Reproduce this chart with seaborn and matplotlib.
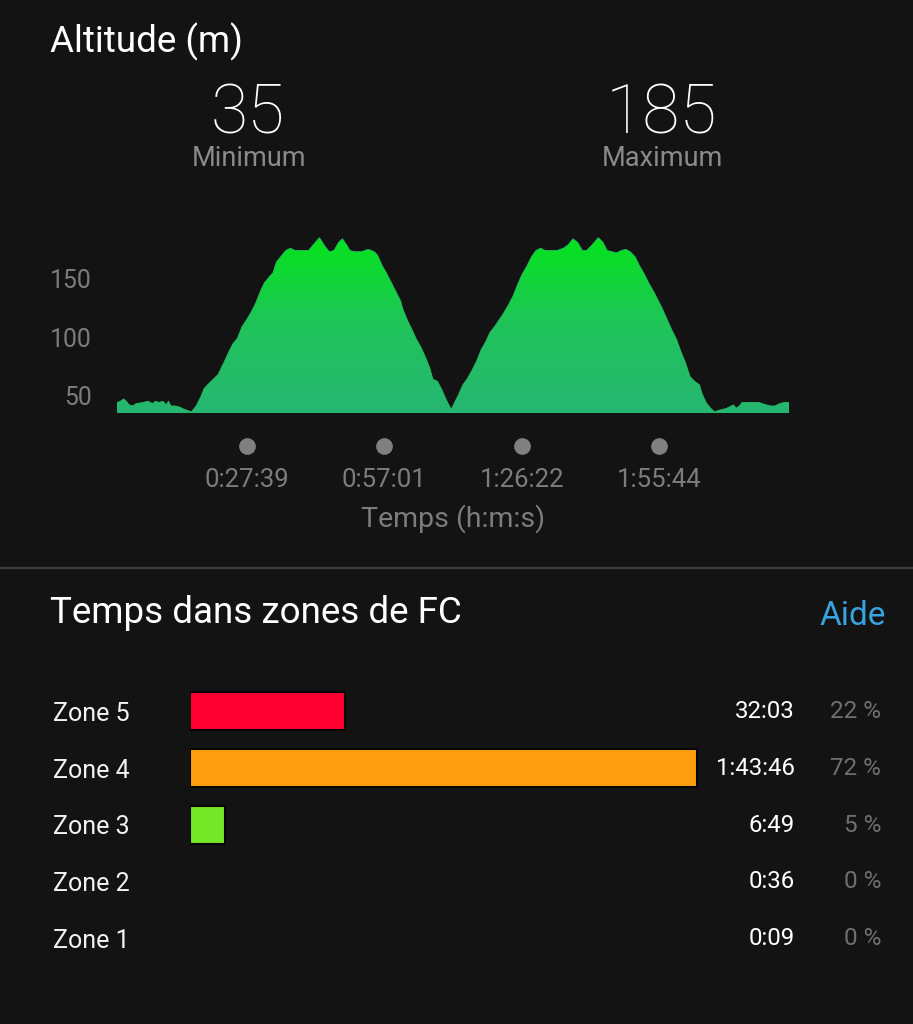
import numpy as np
import seaborn as sns
import matplotlib.pyplot as plt
from matplotlib.colors import LinearSegmentedColormap
from matplotlib.patches import PathPatch
from matplotlib.lines import Line2D

# altitude profile (elapsed minutes, metres)
time_min = [0.0, 0.7, 1.4, 2.0, 2.6, 3.3, 4.1, 5.6, 6.6, 7.6,
            8.2, 9.0, 9.8, 10.5, 11.0, 11.5, 12.5, 13.4, 14.4, 15.9,
            16.9, 17.9, 18.6, 19.8, 21.6, 22.3, 22.8, 23.7, 24.7, 25.7,
            26.7, 27.7, 28.6, 29.6, 30.6, 31.4, 32.6, 33.3, 34.0, 35.0,
            36.0, 37.0, 38.0, 39.4, 40.9, 41.9, 43.2, 44.3, 45.3, 46.3,
            47.3, 48.1, 49.0, 49.7, 50.7, 52.2, 53.6, 54.9, 55.6, 56.6,
            57.6, 58.6, 59.5, 60.5, 61.0, 62.0, 63.0, 63.9, 64.9, 65.9,
            66.7, 67.4, 68.4, 69.3, 70.3, 71.3, 71.8, 72.8, 73.8, 74.7,
            75.7, 76.7, 77.7, 78.7, 79.6, 80.6, 81.6, 82.6, 83.6, 84.5,
            85.5, 86.5, 87.5, 88.5, 89.4, 90.4, 91.4, 92.4, 93.9, 95.3,
            96.3, 97.3, 98.3, 99.3, 100.2, 101.2, 102.7, 103.7, 104.6, 105.6,
            106.6, 107.6, 108.6, 109.5, 110.5, 111.5, 112.5, 113.5, 114.5, 115.4,
            116.4, 117.4, 118.4, 119.4, 120.3, 121.3, 122.3, 123.3, 124.3, 124.8,
            125.7, 126.7, 127.5, 128.2, 129.2, 130.1, 131.1, 131.6, 132.1, 132.8,
            133.4, 134.6, 135.5, 137.0, 138.5, 139.5, 140.4, 141.4, 142.4, 143.4]
altitude = [44, 45, 47, 45, 42, 41, 43, 44, 45, 43,
            45, 44, 45, 42, 45, 41, 41, 40, 38, 36,
            41, 49, 56, 61, 68, 74, 78, 86, 94, 99,
            109, 115, 121, 129, 139, 146, 152, 155, 164, 169,
            174, 176, 174, 174, 174, 179, 185, 178, 173, 174,
            181, 184, 179, 174, 173, 173, 175, 173, 170, 161,
            154, 146, 139, 131, 124, 114, 106, 98, 91, 82,
            74, 64, 62, 55, 46, 38, 42, 50, 59, 64,
            71, 79, 89, 96, 104, 109, 115, 121, 128, 135,
            145, 154, 161, 169, 174, 176, 174, 174, 174, 176,
            179, 184, 181, 174, 174, 178, 185, 181, 174, 173,
            172, 174, 175, 173, 169, 161, 154, 146, 139, 132,
            124, 115, 106, 98, 88, 78, 66, 62, 59, 52,
            44, 39, 36, 37, 38, 39, 41, 42, 39, 41,
            44, 44, 44, 44, 42, 41, 41, 43, 44, 44]
alt_min = 35
alt_max = 185
alt_ticks = [50, 100, 150]
time_ticks = [27.65, 57.02, 86.37, 115.73]
time_tick_labels = ["0:27:39", "0:57:01", "1:26:22", "1:55:44"]

# heart rate zones
zones = ["Zone 5", "Zone 4", "Zone 3", "Zone 2", "Zone 1"]
zone_pct = [22, 72, 5, 0, 0]
zone_time = ["32:03", "1:43:46", "6:49", "0:36", "0:09"]
zone_colors = ["#ff0033", "#ff9e10", "#74e826", "#3da5dd", "#9a9a9a"]

BG = "#131313"
GREY = "#7c7c7c"

sns.set_theme(style="dark", rc={"axes.facecolor": BG, "figure.facecolor": BG})
plt.rcParams["font.family"] = ["Roboto", "DejaVu Sans"]

W, H = 913, 1024
fig = plt.figure(figsize=(W / 100, H / 100), dpi=100)

def fx(px):
    return px / W

def fy(px):
    return 1 - px / H

# ---- altitude panel ----
ax1 = fig.add_axes([fx(117), fy(413), (789 - 117) / W, 187 / H])
ax1.set_facecolor(BG)
sns.lineplot(x=time_min, y=altitude, ax=ax1, color="#22bf63", linewidth=0.6, zorder=3)
poly = ax1.fill_between(time_min, altitude, alt_min, color="none", linewidth=0)
clip = PathPatch(poly.get_paths()[0], transform=ax1.transData, fc="none", ec="none")
ax1.add_patch(clip)
cmap = LinearSegmentedColormap.from_list("alt", ["#26b672", "#1fc45a", "#05e41b"])
grad = np.linspace(0, 1, 256).reshape(-1, 1)
im = ax1.imshow(grad, extent=[time_min[0], time_min[-1], alt_min, alt_max],
                origin="lower", aspect="auto", cmap=cmap, zorder=2)
im.set_clip_path(clip)
ax1.set_xlim(time_min[0], time_min[-1])
ax1.set_ylim(alt_min, 195)
for s in ax1.spines.values():
    s.set_visible(False)
ax1.grid(False)
ax1.set_yticks(alt_ticks)
ax1.set_yticklabels([str(v) for v in alt_ticks])
ax1.tick_params(axis="y", length=0, pad=18, labelsize=17.8, labelcolor=GREY)
ax1.set_xticks(time_ticks)
ax1.set_xticklabels(time_tick_labels)
ax1.tick_params(axis="x", length=0, pad=39.5, labelsize=18.5, labelcolor=GREY)
ax1.plot(time_ticks, [-0.175] * len(time_ticks), "o", color="#808080", markersize=11,
         transform=ax1.get_xaxis_transform(), clip_on=False)
ax1.set_xlabel("Temps (h:m:s)", color=GREY, fontsize=20.5, labelpad=9)
ax1.set_ylabel("")

fig.text(fx(50), fy(42), "Altitude (m)", color="white", fontsize=26.5, va="center", ha="left")
fig.text(fx(248), fy(115), str(alt_min), color="white", fontsize=49, va="center", ha="center",
         fontweight="light")
fig.text(fx(661), fy(115), str(alt_max), color="white", fontsize=49, va="center", ha="center",
         fontweight="light")
fig.text(fx(249), fy(159), "Minimum", color="#8a8a8a", fontsize=19.5, va="center", ha="center")
fig.text(fx(662), fy(159), "Maximum", color="#8a8a8a", fontsize=19.5, va="center", ha="center")

fig.add_artist(Line2D([0, 1], [fy(568), fy(568)], color="#3e3e3e", linewidth=1.5))

# ---- heart rate zones panel ----
fig.text(fx(50), fy(613), "Temps dans zones de FC", color="white", fontsize=26.5, va="center", ha="left")
fig.text(fx(886), fy(616), "Aide", color="#37a3df", fontsize=24, va="center", ha="right")

ax2 = fig.add_axes([fx(190), fy(967), 704 / W, 284 / H])
ax2.set_facecolor(BG)
sns.barplot(x=zone_pct, y=zones, hue=zones, palette=zone_colors, legend=False,
            orient="h", width=0.67, saturation=1, edgecolor="#050505", linewidth=1.5, ax=ax2)
for bar in ax2.patches:
    if bar.get_width() == 0:
        bar.set_edgecolor("none")
ax2.set_xlim(0, 100)
ax2.set_ylim(4.5, -0.5)
for s in ax2.spines.values():
    s.set_visible(False)
ax2.grid(False)
ax2.set_xticks([])
ax2.set_xlabel("")
ax2.set_ylabel("")
ax2.tick_params(axis="y", length=0, pad=99, labelsize=18, labelcolor="#f2f2f2")
for lab in ax2.get_yticklabels():
    lab.set_horizontalalignment("left")

for i, (t, p) in enumerate(zip(zone_time, zone_pct)):
    ax2.text(0.859, i, t, transform=ax2.get_yaxis_transform(), ha="right", va="center",
             color="white", fontsize=17.3)
    ax2.text(0.9815, i, f"{p} %", transform=ax2.get_yaxis_transform(), ha="right", va="center",
             color="#6f6f6f", fontsize=17.5)

fig.savefig("out.png", dpi=100, facecolor=BG)
